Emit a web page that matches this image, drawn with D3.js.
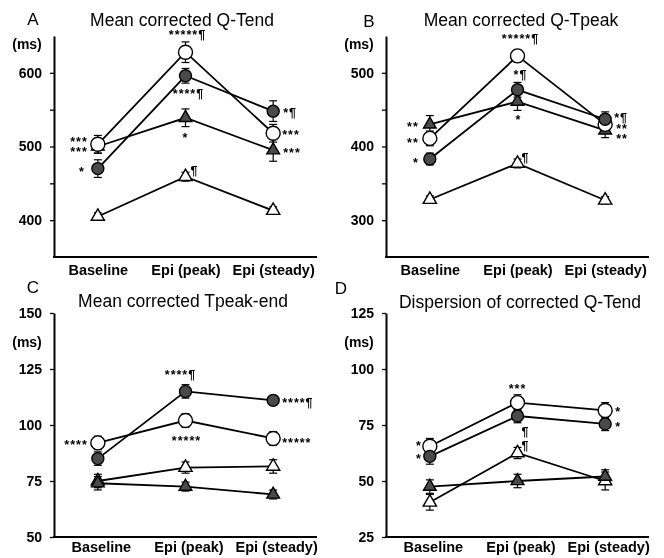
<!DOCTYPE html>
<html><head><meta charset="utf-8">
<script src="https://cdn.jsdelivr.net/npm/d3@7"></script>
<style>
body{margin:0;background:#fff}
svg{filter:grayscale(1)}
svg text{font-family:"Liberation Sans", Arial, sans-serif;fill:#000}
</style></head>
<body><svg id="chart" width="664" height="558"></svg>
<script>
// ---------------- DATA ----------------
const categories = ["Baseline", "Epi (peak)", "Epi (steady)"];
const panelLetters = ["A", "B", "C", "D"];
const panelTitles = ["Mean corrected Q-Tend", "Mean corrected Q-Tpeak", "Mean corrected Tpeak-end", "Dispersion of corrected Q-Tend"];
const unitLabel = "(ms)";

// Panel A: mean corrected Q-Tend
const aOpenCircle = [503, 628, 518];       const aOpenCircleErr = [12, 14, 12];
const aFilledCircle = [470, 596, 548];     const aFilledCircleErr = [12, 10, 14];
const aOpenTriangle = [405, 459, 413];     const aOpenTriangleErr = [5, 6, 5];
const aFilledTriangle = [500, 539, 495];   const aFilledTriangleErr = [9, 12, 15];
const aTicks = [400, 450, 500, 550, 600];  const aTickLabels = [400, 500, 600];

// Panel B: mean corrected Q-Tpeak
const bOpenCircle = [411, 523, 430];       const bOpenCircleErr = [10, 8, 10];
const bFilledCircle = [383, 477, 437];     const bFilledCircleErr = [8, 10, 10];
const bOpenTriangle = [328, 377, 327];     const bOpenTriangleErr = [5, 6, 5];
const bFilledTriangle = [430, 461, 422];   const bFilledTriangleErr = [12, 12, 10];
const bTicks = [300, 350, 400, 450, 500];  const bTickLabels = [300, 400, 500];

// Panel C: mean corrected Tpeak-end
const cOpenCircle = [92, 102, 94];         const cOpenCircleErr = [3, 3, 3];
const cFilledCircle = [85, 115, 111];      const cFilledCircleErr = [3, 3, 2];
const cOpenTriangle = [75, 81, 81.5];      const cOpenTriangleErr = [3, 2.5, 3];
const cFilledTriangle = [74, 72.5, 69];    const cFilledTriangleErr = [3, 2, 2];
const cTicks = [50, 75, 100, 125, 150];    const cTickLabels = [50, 75, 100, 125, 150];

// Panel D: dispersion of corrected Q-Tend
const dOpenCircle = [65.5, 85, 81.5];      const dOpenCircleErr = [3.5, 3.5, 3.5];
const dFilledCircle = [61, 79, 75.5];      const dFilledCircleErr = [3.5, 3, 3];
const dOpenTriangle = [40.5, 62.5, 50];    const dOpenTriangleErr = [3.5, 2.5, 4];
const dFilledTriangle = [47.5, 50, 52];    const dFilledTriangleErr = [3, 3, 3];
const dTicks = [25, 50, 75, 100, 125];     const dTickLabels = [25, 50, 75, 100, 125];

// Significance marks: [text, series, category index]
const aMarks = [["*****¶","oc",1],["****¶","fc",1],["*","ft",1],["¶","ot",1],["*¶","fc",2],["***","oc",2],["***","ft",2],["***","oc",0],["***","ft",0],["*","fc",0]];
const bMarks = [["*****¶","oc",1],["*¶","fc",1],["*","ft",1],["¶","ot",1],["**","ft",0],["**","oc",0],["*","fc",0],["*¶","fc",2],["**","oc",2],["**","ft",2]];
const cMarks = [["****¶","fc",1],["*****","oc",1],["****¶","fc",2],["*****","oc",2],["****","oc",0]];
const dMarks = [["***","oc",1],["¶","fc",1],["¶","ot",1],["*","oc",2],["*","fc",2],["*","oc",0],["*","fc",0]];

// ---------------- LAYOUT ----------------
const markOffsets = {
  A: [[2,-19,"middle"],[3,16,"middle"],[0,18,"middle"],[5,-8,"start"],[10,0,"start"],[9,0,"start"],[10,1,"start"],[-10,-4,"end"],[-10,3,"end"],[-13,1,"end"]],
  B: [[3,-19,"middle"],[3,-17,"middle"],[1,16,"middle"],[4,-7,"start"],[-11,1,"end"],[-11,3,"end"],[-11,2,"end"],[9,-3,"start"],[11,3,"start"],[11,7,"start"]],
  C: [[-5,-18,"middle"],[1,18,"middle"],[9,1,"start"],[9,3,"start"],[-10,0,"end"]],
  D: [[0,-16,"middle"],[4,14,"start"],[4,-9,"start"],[10,0,"start"],[10,1,"start"],[-8,-2,"end"],[-8,1,"end"]]
};

const panels = [
  {letter: panelLetters[0], title: panelTitles[0], ox: 0,   top: 36,  bottom: 257, domain: [350, 650], ticks: aTicks, labels: aTickLabels, marks: aMarks,
   series: {oc:[aOpenCircle,aOpenCircleErr], fc:[aFilledCircle,aFilledCircleErr], ot:[aOpenTriangle,aOpenTriangleErr], ft:[aFilledTriangle,aFilledTriangleErr]},
   letterPos:[33,25], titlePos:[182,26], unitPos:[27,49], labelPad: 8, labelShift: 0},
  {letter: panelLetters[1], title: panelTitles[1], ox: 332, top: 36,  bottom: 257, domain: [250, 550], ticks: bTicks, labels: bTickLabels, marks: bMarks,
   series: {oc:[bOpenCircle,bOpenCircleErr], fc:[bFilledCircle,bFilledCircleErr], ot:[bOpenTriangle,bOpenTriangleErr], ft:[bFilledTriangle,bFilledTriangleErr]},
   letterPos:[37,27], titlePos:[189,26], unitPos:[27,49], labelPad: 8, labelShift: 0},
  {letter: panelLetters[2], title: panelTitles[2], ox: 0,   top: 313, bottom: 537, domain: [50, 150], ticks: cTicks, labels: cTickLabels, marks: cMarks,
   series: {oc:[cOpenCircle,cOpenCircleErr], fc:[cFilledCircle,cFilledCircleErr], ot:[cOpenTriangle,cOpenTriangleErr], ft:[cFilledTriangle,cFilledTriangleErr]},
   letterPos:[33,293], titlePos:[183,307], unitPos:[27,347], labelPad: 5, labelShift: 3},
  {letter: panelLetters[3], title: panelTitles[3], ox: 332, top: 313, bottom: 537, domain: [25, 125], ticks: dTicks, labels: dTickLabels, marks: dMarks,
   series: {oc:[dOpenCircle,dOpenCircleErr], fc:[dFilledCircle,dFilledCircleErr], ot:[dOpenTriangle,dOpenTriangleErr], ft:[dFilledTriangle,dFilledTriangleErr]},
   letterPos:[9,294], titlePos:[188,308], unitPos:[27,347], labelPad: 5, labelShift: 3}
];

const seriesStyle = {
  oc: {shape: "circle",   fill: "#ffffff", r: 7},
  fc: {shape: "circle",   fill: "#4a4a4a", r: 6},
  ot: {shape: "triangle", fill: "#ffffff", size: 76},
  ft: {shape: "triangle", fill: "#4a4a4a", size: 70}
};
const seriesOrder = ["ot", "ft", "oc", "fc"];

// ---------------- DRAW ----------------
const svg = d3.select("#chart");

panels.forEach(p => {
  const g = svg.append("g").attr("transform", `translate(${p.ox},0)`);
  const axisX = 54, rightX = 317;
  const x = d3.scalePoint().domain(categories).range([axisX, rightX]).padding(0.5);
  const y = d3.scaleLinear().domain(p.domain).range([p.bottom, p.top]);

  // panel letter & title
  g.append("text").attr("x", p.letterPos[0]).attr("y", p.letterPos[1])
    .attr("text-anchor", "middle").style("font-size", "17px").text(p.letter);
  g.append("text").attr("x", p.titlePos[0]).attr("y", p.titlePos[1])
    .attr("text-anchor", "middle").style("font-size", "17.5px").text(p.title);
  g.append("text").attr("x", p.unitPos[0]).attr("y", p.unitPos[1])
    .attr("text-anchor", "middle").style("font-size", "14px").style("font-weight", "bold").text(unitLabel);

  // y axis
  const yAxis = d3.axisLeft(y).tickValues(p.ticks).tickSize(4).tickSizeOuter(0).tickPadding(8)
    .tickFormat(d => p.labels.includes(d) ? d : "");
  const ya = g.append("g").attr("transform", `translate(${axisX},0)`).call(yAxis);
  ya.select(".domain").attr("stroke", "#000").attr("stroke-width", 2);
  ya.selectAll(".tick line").attr("stroke", "#000").attr("stroke-width", 1.3);
  ya.selectAll(".tick text").style("font-size", "14px").style("font-weight", "bold")
    .style("font-family", "'Liberation Sans', Arial, sans-serif").attr("fill", "#000");

  // x axis
  const xAxis = d3.axisBottom(x).tickSize(0).tickSizeOuter(0).tickPadding(p.labelPad);
  const xa = g.append("g").attr("transform", `translate(0,${p.bottom})`).call(xAxis);
  xa.select(".domain").attr("stroke", "#000").attr("stroke-width", 2.2).attr("d", `M${axisX - 1},0H${rightX}`);
  xa.selectAll(".tick text").style("font-size", "14.5px").style("font-weight", "bold")
    .style("font-family", "'Liberation Sans', Arial, sans-serif").attr("fill", "#000")
    .attr("dx", p.labelShift);

  const line = d3.line().x((d, i) => x(categories[i])).y(d => y(d));

  // error bars
  seriesOrder.forEach(k => {
    const [vals, errs] = p.series[k];
    vals.forEach((v, i) => {
      const cx = x(categories[i]);
      const y1 = y(v + errs[i]), y2 = y(v - errs[i]);
      g.append("line").attr("x1", cx).attr("x2", cx).attr("y1", y1).attr("y2", y2).attr("stroke", "#000").attr("stroke-width", 1.2);
      [y1, y2].forEach(yy => g.append("line").attr("x1", cx - 4).attr("x2", cx + 4).attr("y1", yy).attr("y2", yy).attr("stroke", "#000").attr("stroke-width", 1.2));
    });
  });

  // lines
  seriesOrder.forEach(k => {
    g.append("path").datum(p.series[k][0]).attr("d", line)
      .attr("fill", "none").attr("stroke", "#000").attr("stroke-width", 1.8);
  });

  // markers
  seriesOrder.forEach(k => {
    const st = seriesStyle[k];
    p.series[k][0].forEach((v, i) => {
      const cx = x(categories[i]), cy = y(v);
      if (st.shape === "circle") {
        g.append("circle").attr("cx", cx).attr("cy", cy).attr("r", st.r)
          .attr("fill", st.fill).attr("stroke", "#000").attr("stroke-width", 1.4);
      } else {
        g.append("path").attr("d", d3.symbol(d3.symbolTriangle, st.size)())
          .attr("transform", `translate(${cx},${cy})`)
          .attr("fill", st.fill).attr("stroke", "#000").attr("stroke-width", 1.4);
      }
    });
  });

  // significance marks
  const offs = markOffsets[p.letter];
  p.marks.forEach((m, j) => {
    const [txt, k, ci] = m;
    const [dx, dy, anchor] = offs[j];
    const cx = x(categories[ci]) + dx;
    const cy = y(p.series[k][0][ci]) + dy;
    g.append("text").attr("x", cx).attr("y", cy + 6)
      .attr("text-anchor", anchor)
      .style("font-size", "12.5px").style("font-weight", "bold").style("letter-spacing", "1px")
      .attr("fill", "#000")
      .text(txt);
  });
});
</script>
</body></html>
